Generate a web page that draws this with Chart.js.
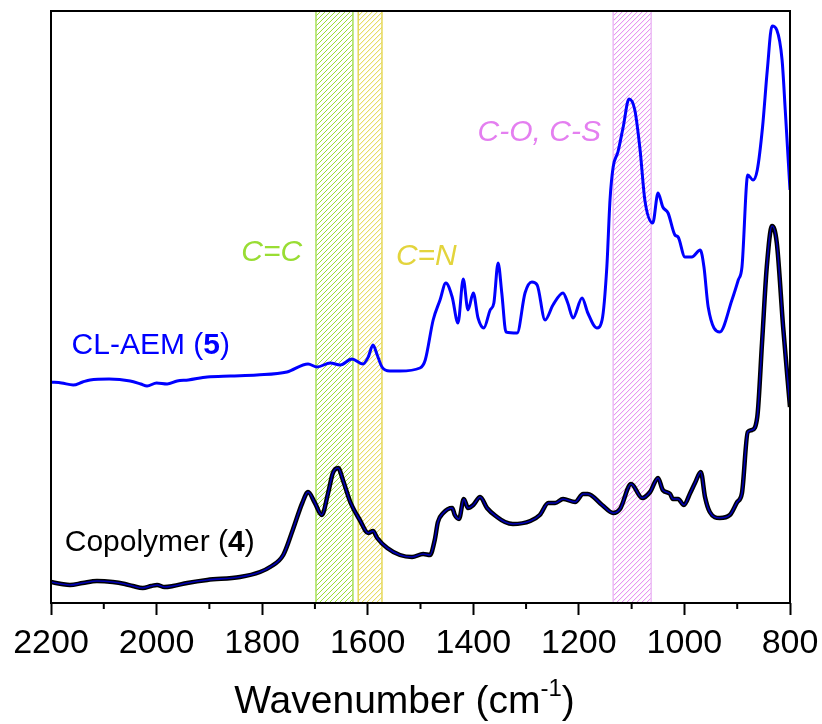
<!DOCTYPE html>
<html>
<head>
<meta charset="utf-8">
<script src="https://cdn.jsdelivr.net/npm/chart.js@4.4.0/dist/chart.umd.min.js"></script>
<style>
    html, body { margin: 0; padding: 0; background: #fff; }
    #wrap { width: 822px; height: 724px; }
</style>
</head>
<body>
<div id="wrap"><canvas id="graph"></canvas></div>
<script>
// CL-AEM (5) spectrum, wavenumber (cm-1) and absorbance (a.u., offset)
const wnCLAEM = [
    2200, 2180, 2158, 2140, 2126, 2090, 2050, 2030, 2018, 2000,
    1980, 1961, 1940, 1904, 1860, 1810, 1753, 1713, 1696, 1671,
    1652, 1630, 1609, 1599, 1590, 1582, 1573, 1558, 1539, 1501,
    1491, 1476, 1463, 1452, 1440, 1429, 1419, 1410, 1400, 1391,
    1380, 1368, 1361, 1353, 1346, 1338, 1317, 1302, 1289, 1279,
    1264, 1249, 1230, 1221, 1211, 1194, 1183, 1166, 1156, 1147,
    1141, 1135, 1126, 1116, 1105, 1094, 1084, 1075, 1060, 1050,
    1041, 1031, 1018, 1012, 999, 986, 970, 963, 955, 933,
    910, 898, 891, 880, 870, 862, 852, 843, 834, 825,
    815, 809, 800
];
const absCLAEM = [
    221, 220, 218, 221, 223, 224, 222, 219, 217, 220,
    219, 222, 223, 226, 227, 228, 231, 239, 236, 240,
    238, 244, 239, 246, 258, 248, 236, 232, 232, 235,
    243, 283, 303, 320, 306, 280, 324, 293, 310, 285,
    275, 293, 300, 340, 310, 271, 270, 310, 321, 318,
    283, 298, 310, 300, 285, 305, 290, 275, 283, 336,
    403, 436, 451, 476, 504, 493, 453, 403, 380, 410,
    396, 390, 368, 366, 346, 346, 353, 336, 296, 271,
    303, 323, 336, 428, 423, 433, 476, 533, 577, 573,
    543, 493, 413
];

// Copolymer (4) spectrum
const wnCopolymer = [
    2200, 2180, 2164, 2140, 2113, 2083, 2060, 2045, 2026, 2010,
    1999, 1985, 1969, 1942, 1904, 1842, 1804, 1785, 1760, 1742,
    1724, 1713, 1700, 1687, 1675, 1666, 1656, 1647, 1633, 1615,
    1599, 1590, 1582, 1563, 1539, 1516, 1495, 1482, 1473, 1467,
    1457, 1440, 1435, 1427, 1418, 1410, 1400, 1387, 1374, 1355,
    1340, 1325, 1292, 1274, 1258, 1245, 1230, 1207, 1192, 1183,
    1156, 1135, 1122, 1101, 1080, 1065, 1050, 1041, 1027, 1022,
    1012, 1001, 989, 980, 969, 961, 952, 933, 914, 900,
    891, 880, 872, 862, 853, 844, 834, 825, 813, 800
];
const absCopolymer = [
    21, 19, 18, 20, 22, 21, 19, 17, 15, 17,
    18, 16, 17, 20, 23, 26, 31, 36, 48, 73,
    100, 111, 100, 88, 110, 130, 135, 123, 101, 83,
    70, 72, 65, 55, 48, 46, 49, 48, 63, 81,
    90, 95, 88, 84, 104, 95, 98, 106, 95, 86,
    81, 79, 82, 88, 100, 100, 104, 101, 109, 109,
    98, 90, 94, 119, 105, 111, 125, 113, 109, 104,
    104, 98, 110, 120, 131, 106, 91, 85, 88, 101,
    110, 171, 173, 186, 260, 336, 377, 360, 276, 196
];

const xTicks = [2200, 2000, 1800, 1600, 1400, 1200, 1000, 800];
const xMinor = [2100, 1900, 1700, 1500, 1300, 1100, 900];

// hatched bands
const bandFrom = [1698, 1618, 1135];
const bandTo = [1628, 1573, 1063];
const bandNames = ['C=C', 'C=N', 'C-O, C-S'];
const bandNameX = [1782, 1489, 1275];
const bandNameY = [350, 346, 470];
const bandColors = ['#99dd33', '#e3d43c', '#e47ff0'];
const bandEdge = ['#a8e05a', '#e6d85a', '#ecbaf5'];

// series labels
const seriesNames = [['CL-AEM (', '5', ')'], ['Copolymer (', '4', ')']];
const seriesNameX = [2011, 1994];
const seriesNameY = [257, 60];
const seriesColors = ['#0000ff', '#000000'];

const FONT = '"Liberation Sans", Arial, sans-serif';

function toPoints(xs, ys) {
    return xs.map((x, i) => ({ x: x, y: ys[i] }));
}

function drawHatch(ctx, x, y, w, h, color) {
    ctx.save();
    ctx.beginPath();
    ctx.rect(x, y, w, h);
    ctx.clip();
    ctx.strokeStyle = color;
    ctx.lineWidth = 1;
    ctx.beginPath();
    for (let s = x - h; s < x + w + 5; s += 5) {
        ctx.moveTo(s, y + h);
        ctx.lineTo(s + h, y);
    }
    ctx.stroke();
    ctx.restore();
}

function drawRich(ctx, parts, cx, cy, color, size, italic) {
    const style = italic ? 'italic ' : '';
    const fonts = parts.map((p, i) => style + (i == 1 && parts.length == 3 ? 'bold ' : '') + size + 'px ' + FONT);
    let total = 0;
    const widths = parts.map((p, i) => { ctx.font = fonts[i]; const w = ctx.measureText(p).width; total += w; return w; });
    let x = cx - total / 2;
    ctx.fillStyle = color;
    ctx.textBaseline = 'middle';
    ctx.textAlign = 'left';
    parts.forEach((p, i) => {
        ctx.font = fonts[i];
        ctx.fillText(p, x, cy);
        x += widths[i];
    });
}

const bandsPlugin = {
    id: 'bands',
    beforeDatasetsDraw(chart) {
        const ctx = chart.ctx;
        const xs = chart.scales.x;
        const area = chart.chartArea;
        ctx.save();
        bandFrom.forEach((from, i) => {
            const x1 = xs.getPixelForValue(from);
            const x2 = xs.getPixelForValue(bandTo[i]);
            drawHatch(ctx, x1, area.top, x2 - x1, area.bottom - area.top, bandColors[i]);
            ctx.strokeStyle = bandEdge[i];
            ctx.lineWidth = 1.5;
            ctx.strokeRect(x1, area.top, x2 - x1, area.bottom - area.top);
        });
        ctx.restore();
    },
    afterDraw(chart) {
        const ctx = chart.ctx;
        const xs = chart.scales.x;
        const ys = chart.scales.y;
        const area = chart.chartArea;
        ctx.save();
        // frame
        ctx.strokeStyle = '#000';
        ctx.lineWidth = 2;
        ctx.strokeRect(area.left, area.top, area.right - area.left, area.bottom - area.top);
        // minor ticks
        ctx.beginPath();
        xMinor.forEach(v => {
            const px = xs.getPixelForValue(v);
            ctx.moveTo(px, area.bottom);
            ctx.lineTo(px, area.bottom + 6);
        });
        ctx.stroke();

        bandNames.forEach((name, i) => {
            drawRich(ctx, [name], xs.getPixelForValue(bandNameX[i]), ys.getPixelForValue(bandNameY[i]), bandColors[i], 30, true);
        });
        seriesNames.forEach((parts, i) => {
            drawRich(ctx, parts, xs.getPixelForValue(seriesNameX[i]), ys.getPixelForValue(seriesNameY[i]), seriesColors[i], 30, false);
        });

        // axis title with superscript
        ctx.fillStyle = '#000';
        ctx.textBaseline = 'alphabetic';
        ctx.textAlign = 'left';
        const main = 'Wavenumber (cm';
        const sup = '-1';
        const end = ')';
        ctx.font = '39px ' + FONT;
        const w1 = ctx.measureText(main).width;
        const w3 = ctx.measureText(end).width;
        ctx.font = '24px ' + FONT;
        const w2 = ctx.measureText(sup).width;
        let x = (area.left + area.right) / 2 - 16 - (w1 + w2 + w3) / 2;
        const base = 713;
        ctx.font = '39px ' + FONT;
        ctx.fillText(main, x, base);
        x += w1;
        ctx.font = '24px ' + FONT;
        ctx.fillText(sup, x, base - 17);
        x += w2;
        ctx.font = '39px ' + FONT;
        ctx.fillText(end, x, base);
        ctx.restore();
    }
};

new Chart(document.getElementById('graph').getContext('2d'), {
    type: 'line',
    data: {
        datasets: [
            {
                label: 'CL-AEM (5)',
                data: toPoints(wnCLAEM, absCLAEM),
                borderColor: '#0000ff',
                borderWidth: 3,
                pointRadius: 0,
                cubicInterpolationMode: 'monotone'
            },
            {
                label: 'Copolymer (4) outline',
                data: toPoints(wnCopolymer, absCopolymer),
                borderColor: '#000000',
                borderWidth: 4.5,
                pointRadius: 0,
                cubicInterpolationMode: 'monotone',
                order: 2
            },
            {
                label: 'Copolymer (4)',
                data: toPoints(wnCopolymer, absCopolymer),
                borderColor: '#0000b4',
                borderWidth: 1.6,
                pointRadius: 0,
                cubicInterpolationMode: 'monotone',
                order: 1
            }
        ]
    },
    options: {
        responsive: true,
        maintainAspectRatio: false,
        animation: false,
        devicePixelRatio: 1,
        layout: { padding: { left: 51, top: 11, right: 32, bottom: 0 } },
        plugins: {
            legend: { display: false },
            tooltip: { enabled: false }
        },
        scales: {
            x: {
                type: 'linear',
                reverse: true,
                min: 800,
                max: 2200,
                afterFit: scale => {
                    scale.height = 121;
                    scale.paddingLeft = 0;
                    scale.paddingRight = 0;
                },
                afterBuildTicks: scale => { scale.ticks = xTicks.map(v => ({ value: v })); },
                ticks: {
                    color: '#000',
                    padding: 8,
                    maxRotation: 0,
                    font: { family: FONT, size: 34 },
                    callback: value => String(value)
                },
                grid: {
                    drawOnChartArea: false,
                    drawTicks: true,
                    tickLength: 12,
                    tickWidth: 2,
                    tickColor: '#000'
                },
                border: { display: false }
            },
            y: {
                display: false,
                min: 0,
                max: 592
            }
        }
    },
    plugins: [bandsPlugin]
});
</script>
</body>
</html>
